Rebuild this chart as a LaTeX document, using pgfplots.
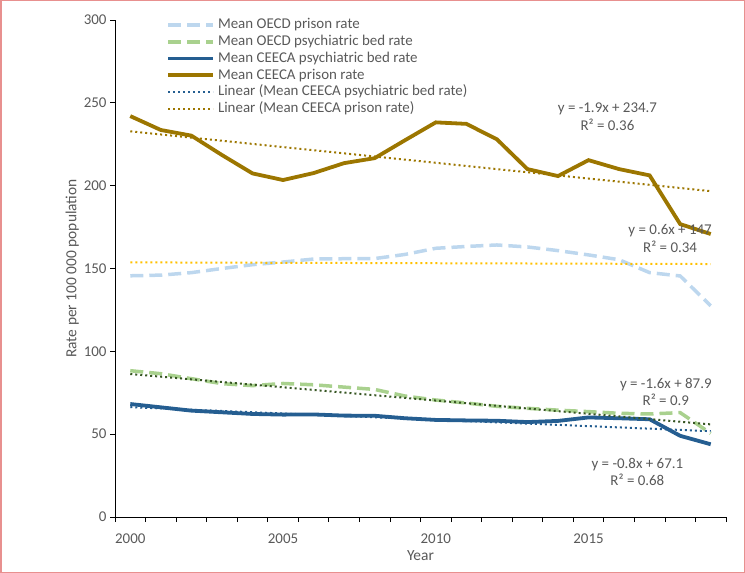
\documentclass[border=0pt]{standalone}
\usepackage{fontspec}
\setmainfont{Carlito}
\usepackage{pgfplots}
\pgfplotsset{compat=1.18}
\definecolor{oecdprison}{HTML}{BDD7EE}
\definecolor{oecdpsych}{HTML}{A9D18E}
\definecolor{ceecapsych}{HTML}{255E91}
\definecolor{ceecaprison}{HTML}{9C7600}
\definecolor{trendyellow}{HTML}{FFC000}
\definecolor{trendgreen}{HTML}{375623}
\definecolor{txtgray}{HTML}{595959}
\definecolor{framered}{HTML}{E8908F}
\begin{document}
\begin{tikzpicture}
\draw[framered, line width=1.5bp] (0.75bp,0.75bp) rectangle (744.25bp,572.25bp);
\begin{axis}[
  at={(115bp,56bp)}, anchor=south west,
  scale only axis, width=611bp, height=497bp,
  xmin=1999.5, xmax=2019.5, ymin=0, ymax=300,
  axis lines=left,
  axis line style={-, black, line width=0.8bp},
  xtick={2000,2005,2010,2015},
  minor xtick={1999.5,2000.5,...,2019.5},
  ytick={0,50,...,300},
  tick align=outside,
  major tick length=5bp, minor tick length=5bp,
  major x tick style={draw=none},
  every tick/.style={black, line width=0.8bp},
  minor x tick style={black, line width=0.8bp},
  /pgf/number format/1000 sep={},
  /pgf/number format/assume math mode=true,
  ticklabel style={font=\fontsize{15}{18}\selectfont, text=txtgray},
  xticklabel style={yshift=-8bp},
  xlabel={Year}, ylabel={Rate per 100 000 population},
  label style={font=\fontsize{15.5}{18}\selectfont, text=txtgray},
  ylabel style={yshift=-2bp},
  legend style={at={(0.0835,1.0066)}, anchor=north west, draw=none, fill=none,
    font=\fontsize{15}{18}\selectfont, text=txtgray, cells={anchor=west},
    nodes={text height=11bp, text depth=3.5bp, inner ysep=1bp, inner xsep=1bp},
    row sep=0.2bp, column sep=2bp, inner sep=0bp},
  legend image code/.code={\draw[#1] (0bp,0bp) -- (45bp,0bp);},
  clip=false,
]
\addplot[oecdprison, line width=3.5bp, dash pattern=on 13bp off 6bp] coordinates {
(2000,145.6)(2001,146)(2002,147.5)(2003,150)(2004,152.3)(2005,153.9)(2006,155.7)
(2007,155.9)(2008,156)(2009,158.5)(2010,162.2)(2011,163.3)(2012,164.2)(2013,163)
(2014,160.8)(2015,158.2)(2016,155.3)(2017,147.5)(2018,145.5)(2019,127.5)};
\addlegendentry{Mean OECD prison rate}
\addplot[oecdpsych, line width=3.5bp, dash pattern=on 13bp off 6bp] coordinates {
(2000,88.3)(2001,86.5)(2002,83.5)(2003,80.5)(2004,79.3)(2005,80.6)(2006,79.8)
(2007,78.4)(2008,77)(2009,73)(2010,70.6)(2011,68.8)(2012,66.8)(2013,65.6)
(2014,64.5)(2015,63.6)(2016,62.6)(2017,62.2)(2018,63)(2019,50.5)};
\addlegendentry{Mean OECD psychiatric bed rate}
\addplot[ceecapsych, line width=3.8bp] coordinates {
(2000,68.2)(2001,66.2)(2002,64.2)(2003,63.2)(2004,62.2)(2005,61.8)(2006,61.9)
(2007,61.2)(2008,61.1)(2009,59.6)(2010,58.6)(2011,58.3)(2012,58.1)(2013,57.3)
(2014,58)(2015,60.1)(2016,59.6)(2017,59)(2018,49)(2019,43.9)};
\addlegendentry{Mean CEECA psychiatric bed rate}
\addplot[ceecaprison, line width=3.8bp] coordinates {
(2000,242)(2001,233.6)(2002,230.2)(2003,218.5)(2004,207.4)(2005,203.4)(2006,207.6)
(2007,213.6)(2008,216.6)(2009,227.5)(2010,238.2)(2011,237.3)(2012,228)(2013,210)
(2014,205.8)(2015,215.4)(2016,210)(2017,206.2)(2018,176.8)(2019,170.8)};
\addlegendentry{Mean CEECA prison rate}
\addplot[ceecapsych, line width=2bp, dash pattern=on 2bp off 3bp] coordinates {
(2000,66.3)(2019,51.8)};
\addlegendentry{Linear (Mean CEECA psychiatric bed rate)}
\addplot[ceecaprison, line width=2bp, dash pattern=on 2bp off 3bp] coordinates {
(2000,232.8)(2019,196.7)};
\addlegendentry{Linear (Mean CEECA prison rate)}
\addplot[trendyellow, line width=2bp, dash pattern=on 2bp off 3bp, forget plot] coordinates {
(2000,153.7)(2019,152.7)};
\addplot[trendgreen, line width=2bp, dash pattern=on 2bp off 3bp, forget plot] coordinates {
(2000,86.3)(2019,55.9)};
\begin{scope}[every node/.style={font=\fontsize{15}{17.5}\selectfont, text=txtgray, align=center}]
\node at (axis cs:2015.62,241.7) {y = -1.9x + 234.7\\R² = 0.36};
\node at (axis cs:2017.67,168) {y = 0.6x + 147\\R² = 0.34};
\node at (axis cs:2017.53,75.4) {y = -1.6x + 87.9\\R² = 0.9};
\node at (axis cs:2016.6,27.2) {y = -0.8x + 67.1\\R² = 0.68};
\end{scope}
\end{axis}
\end{tikzpicture}
\end{document}
